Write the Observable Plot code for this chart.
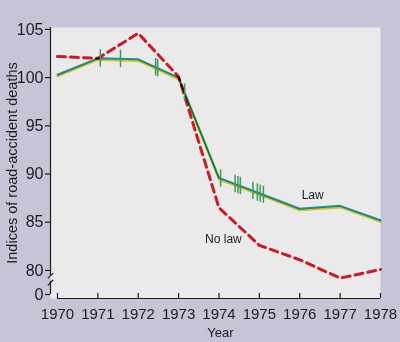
<!DOCTYPE html>
<html><head><meta charset="utf-8">
<script src="https://cdn.jsdelivr.net/npm/d3@7"></script>
<script src="https://cdn.jsdelivr.net/npm/@observablehq/plot@0.6"></script>
<style>
html,body{margin:0;padding:0;background:#c6c5d8;}
#chart{width:400px;height:342px;}
</style></head><body><div id="chart"></div>
<script>
// ---- data ----
const years = [1970, 1971, 1972, 1973, 1974, 1975, 1976, 1977, 1978];
const lawValues = [100.3, 102.0, 101.9, 100.0, 89.6, 88.0, 86.4, 86.7, 85.2];
const noLawValues = [102.2, 102.0, 104.6, 100.1, 86.5, 82.6, 81.1, 79.2, 80.1];
const eventYears = [1971.06, 1971.56, 1972.43, 1972.48, 1973.15, 1974.04, 1974.4, 1974.47, 1974.53, 1974.84, 1974.95, 1975.02, 1975.1];
const yTicks = [0, 80, 85, 90, 95, 100, 105];
const seriesLabels = [
  {text: "Law", x: 1976.32, y: 87.8},
  {text: "No law", x: 1974.11, y: 83.2}
];
const yAxisStart = 1969.827;
const axisSegments = [{y1: 79.47, y2: 105.2}, {y1: 0, y2: 78.86}];
const breakMarks = [
  {x1: 1969.76, y1: 79.17, x2: 1969.895, y2: 79.72},
  {x1: 1969.76, y1: 78.44, x2: 1969.895, y2: 79.03}
];

const rows = years.map((year, i) => ({year, law: lawValues[i], noLaw: noLawValues[i]}));
const lawAt = d3.scaleLinear(years, lawValues);
const events = eventYears.map(e => ({year: e, v: lawAt(e)}));

// broken axis: 0..78 compressed into a short stretch just below the data
const breakTop = 78, breakLow = 77.5;
const yBreak = v => v >= breakTop ? v : breakLow + v * (breakTop - breakLow) / breakTop;

const chart = Plot.plot({
  width: 400, height: 342,
  marginLeft: 50, marginRight: 20, marginTop: 27, marginBottom: 44,
  style: {background: "transparent", fontFamily: "'Liberation Sans', Arial, sans-serif", color: "#1c1c1c"},
  x: {domain: [yAxisStart, 1978]},
  y: {transform: yBreak, domain: [77.085, 105.2]},
  marks: [
    Plot.frame({fill: "#ebeaea", stroke: null}),
    // axes
    Plot.ruleX(axisSegments, {x: () => yAxisStart, y1: "y1", y2: "y2", stroke: "#1c1c1c", strokeWidth: 1.2}),
    Plot.link(breakMarks, {x1: "x1", y1: "y1", x2: "x2", y2: "y2", stroke: "#1c1c1c", strokeWidth: 1.2}),
    Plot.axisY(yTicks, {tickSize: 5, tickPadding: 2, fontSize: 16, label: null, strokeWidth: 1.2}),
    Plot.ruleY([0], {x1: 1970, x2: 1978, dy: 4, stroke: "#1c1c1c", strokeWidth: 1.2}),
    Plot.ruleX(years, {x: d => d, insetTop: 266, stroke: "#1c1c1c", strokeWidth: 1.2}),
    Plot.axisX(years, {tickSize: 0, tickPadding: 10, fontSize: 15, tickFormat: d => String(d), label: null}),
    Plot.text(["Indices of road-accident deaths"], {frameAnchor: "left", textAnchor: "middle", rotate: -90, dx: -38, fontSize: 14.5}),
    Plot.text(["Year"], {frameAnchor: "bottom", dy: 38, dx: 5, fontSize: 13}),
    // data
    Plot.line(rows, {x: "year", y: "noLaw", stroke: "#cc1a26", strokeWidth: 3, strokeDasharray: "8,5"}),
    Plot.line(rows, {x: "year", y: "law", stroke: "#e8d42a", strokeWidth: 2, dy: 1.6, mixBlendMode: "multiply"}),
    Plot.line(rows, {x: "year", y: "law", stroke: "#1a9cb0", strokeWidth: 2, mixBlendMode: "multiply"}),
    Plot.ruleX(events, {x: "year", y1: d => d.v - 0.9, y2: d => d.v + 0.9, stroke: "#3b9a5e", strokeWidth: 1.5}),
    Plot.text(seriesLabels, {x: "x", y: "y", text: "text", fontSize: 12, fill: "#1c1c1c"})
  ]
});
document.getElementById("chart").appendChild(chart);
</script>
</body></html>
